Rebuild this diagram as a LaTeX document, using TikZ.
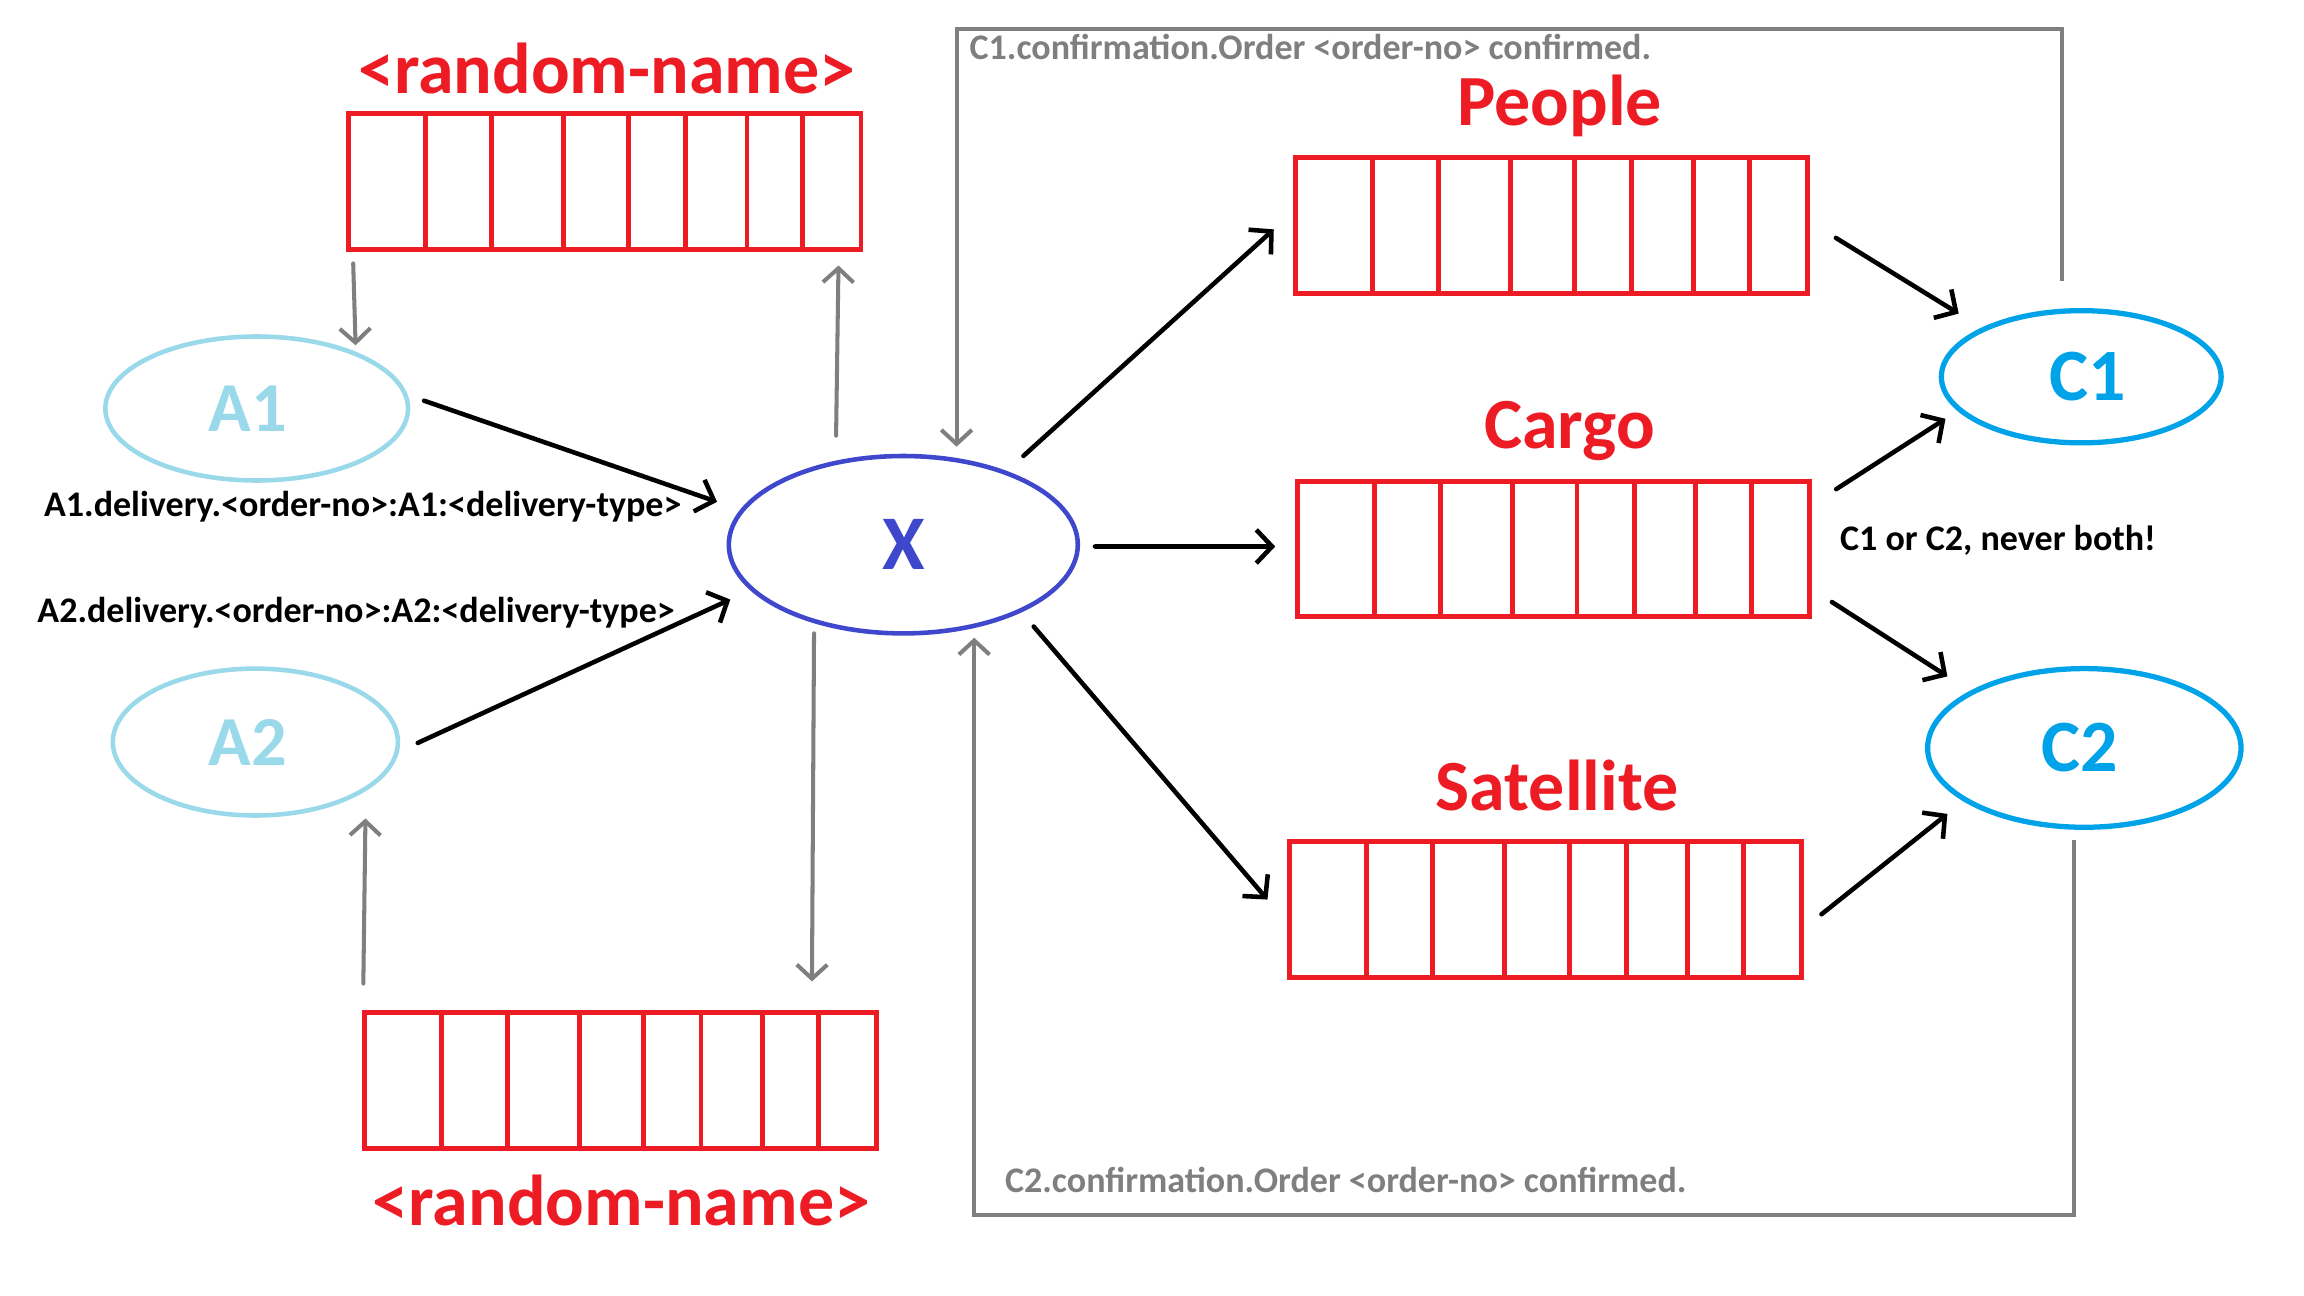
\documentclass[tikz,border=0pt]{standalone}
\usepackage{fontspec}
\setmainfont{Carlito}
\usetikzlibrary{arrows.meta,shapes.geometric,calc}
\definecolor{qred}{HTML}{ED1C24}
\definecolor{lblue}{HTML}{99D9EA}
\definecolor{xblue}{HTML}{3F48CC}
\definecolor{cblue}{HTML}{00A2E8}
\definecolor{lgray}{HTML}{7F7F7F}
\begin{document}
\begin{tikzpicture}[x=0.014694cm,y=-0.014694cm,
  queue/.style={draw=qred,line width=1.4pt,rectangle,inner sep=0pt,minimum width=5.121cm,minimum height=1.355cm},
  oval/.style={ellipse,inner sep=0pt,line width=1.3pt,font=\fontsize{20}{24}\selectfont\bfseries},
  qlabel/.style={anchor=base,text=qred,inner sep=0pt,font=\fontsize{20.5}{24}\selectfont\bfseries},
  small/.style={anchor=base west,inner sep=0pt,font=\fontsize{10.25}{12}\selectfont\bfseries},
  garrow/.style={draw=lgray,line width=1.15pt,line cap=round,-{Straight Barb[length=4pt,width=8.7pt]}},
  barrow/.style={draw=black,line width=1.3pt,line cap=round,-{Straight Barb[length=4.5pt,width=9.5pt]}}
]
\useasboundingbox (0,0) rectangle (1568,882);

% queues
\node[queue] (Qtop) at (411.7,123.5) {};
\node[queue] (Qbot) at (422.3,735.4) {};
\node[queue] (People) at (1055.8,153.6) {};
\node[queue] (Cargo) at (1057.3,373.5) {};
\node[queue] (Sat) at (1052,619) {};
\foreach \q in {Qtop,Qbot,People,Cargo,Sat}
  \foreach \f in {0.1535,0.2812,0.4204,0.5452,0.6557,0.7747,0.8824}
    \draw[qred,line width=1.4pt] ($(\q.south west)!\f!(\q.south east)$) -- ($(\q.north west)!\f!(\q.north east)$);

% queue labels
\node[qlabel] (LQtop) at (413,63.6) {<random-name>};
\node[qlabel] (LQbot) at (423,833.7) {<random-name>};
\node[qlabel] (LPeople) at (1061.4,85.1) {People};
\node[qlabel] (LCargo) at (1068.2,305.1) {Cargo};
\node[qlabel] (LSat) at (1059.7,551.8) {Satellite};

% ellipses
\node[oval,draw=lblue,text=lblue,minimum width=3.027cm,minimum height=1.440cm] (A1) at (174.7,278) {A1\kern0.18cm};
\node[oval,draw=lblue,text=lblue,minimum width=2.851cm,minimum height=1.469cm] (A2) at (173.8,505) {A2\kern0.15cm};
\node[oval,draw=xblue,text=xblue,minimum width=3.490cm,minimum height=1.774cm,font=\fontsize{22}{26}\selectfont\bfseries] (X) at (614.75,370.7) {X};
\node[oval,draw=cblue,text=cblue,line width=1.5pt,minimum width=2.798cm,minimum height=1.322cm,font=\fontsize{21}{25}\selectfont\bfseries] (C1) at (1416.4,256.4) {\kern0.13cm C1};
\node[oval,draw=cblue,text=cblue,line width=1.5pt,minimum width=3.134cm,minimum height=1.587cm,font=\fontsize{21}{25}\selectfont\bfseries] (C2) at (1418.5,509) {C2\kern0.1cm};

% small labels
\node[small] (LA1) at (29.5,351.8) {A1.delivery.<order-no>:A1:<delivery-type>};
\node[small] (LA2) at (25,423.4) {A2.delivery.<order-no>:A2:<delivery-type>};
\node[small,text=lgray] (LC1) at (659.4,40.7) {C1.confirmation.Order <order-no> confirmed.};
\node[small,text=lgray] (LC2) at (683.5,811.6) {C2.confirmation.Order <order-no> confirmed.};
\node[small] (LBoth) at (1251.8,374.7) {C1 or C2, never both!};

% gray connectors
\draw[garrow] ([shift={(4.6,8)}]Qtop.south west) -- ([shift={(67.3,-43)}]A1.center);
\draw[garrow] ([shift={(-45.75,-74.2)}]X.center) -- ([shift={(-17,9.4)}]Qtop.south east);
\draw[garrow] ([shift={(-60.75,60.3)}]X.center) -- ([shift={(306.2,-19.7)}]Qbot.north west);
\draw[garrow] ([shift={(0.9,-18.3)}]Qbot.north west) -- ([shift={(74.9,52)}]A2.center);
\draw[garrow,line cap=butt] ([shift={(-12.9,-65)}]C1.center) -- ++(0,-171.9) -| ([shift={(36.25,-66.7)}]X.center);
\draw[garrow,line cap=butt] ([shift={(-6.8,62.4)}]C2.center) -- ++(0,255.3) -| ([shift={(48.25,63.3)}]X.center);

% black connectors
\draw[barrow] ([shift={(113.9,-5.3)}]A1.center) -- ([shift={(-126.75,-29.2)}]X.center);
\draw[barrow] ([shift={(110.5,0.6)}]A2.center) -- ([shift={(-117.75,37.3)}]X.center);
\draw[barrow] ([shift={(81.75,-60.4)}]X.center) -- ([shift={(-13,2.5)}]People.west);
\draw[barrow] ([shift={(130.45,1.2)}]X.center) -- ([shift={(-13.5,-1.6)}]Cargo.west);
\draw[barrow] ([shift={(88.75,55.7)}]X.center) -- ([shift={(-13.5,-6.8)}]Sat.west);
\draw[barrow] ([shift={(17.7,8.3)}]People.east) -- ([shift={(-83.4,-43)}]C1.center);
\draw[barrow] ([shift={(16.4,-40.6)}]Cargo.east) -- ([shift={(-92.4,28.6)}]C1.center);
\draw[barrow] ([shift={(13.5,36.2)}]Cargo.east) -- ([shift={(-93.2,-48.7)}]C2.center);
\draw[barrow] ([shift={(11.7,3.2)}]Sat.east) -- ([shift={(-93.2,44.9)}]C2.center);
\end{tikzpicture}
\end{document}
